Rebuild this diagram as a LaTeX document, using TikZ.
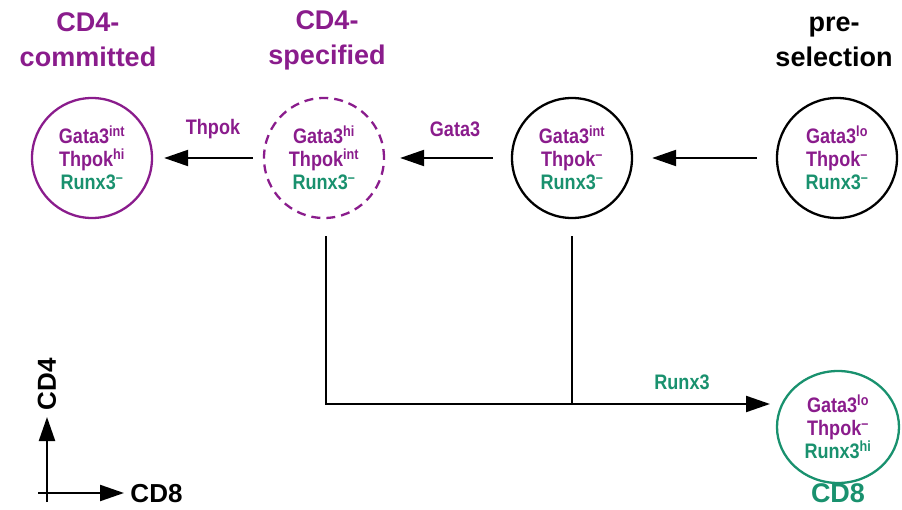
\documentclass[tikz,border=0pt]{standalone}
\usepackage{fontspec}
\setmainfont{Liberation Sans}
\newfontfamily\cellfont[FakeStretch=0.86]{Liberation Sans}
\usetikzlibrary{arrows.meta,shapes.geometric}
\definecolor{pur}{RGB}{138,28,140}
\definecolor{grn}{RGB}{25,145,110}
\begin{document}
\begin{tikzpicture}[x=1pt,y=-1pt,line width=2.3pt,
  cell/.style={circle,draw,line width=2.3pt,minimum size=120pt,inner sep=0pt,align=center,
    font=\cellfont\bfseries\fontsize{21}{23}\selectfont},
  lab/.style={font=\cellfont\bfseries\fontsize{21}{23}\selectfont},
  ttl/.style={align=center,font=\bfseries\fontsize{27}{35}\selectfont},
  arr/.style={-{Triangle[length=24pt,width=16pt]},line width=2.2pt},
  axarr/.style={-{Triangle[length=24pt,width=16pt]},line width=2.2pt}]
\useasboundingbox (0,0) rectangle (902,510);
% titles
\node[ttl,text=pur] (t1) at (88,40) {CD4-\\committed};
\node[ttl,text=pur] (t2) at (327,40) {CD4-\\specified};
\node[ttl,text=black] (t3) at (834,42) {pre-\\selection};
% cells
\node[cell,draw=pur] (committed) at (92,158)
  {\textcolor{pur}{Gata3\textsuperscript{int}}\\\textcolor{pur}{Thpok\textsuperscript{hi}}\\\textcolor{grn}{Runx3\textsuperscript{–}}};
\node[cell,draw=pur,dash pattern=on 9pt off 6pt] (specified) at (324,158)
  {\textcolor{pur}{Gata3\textsuperscript{hi}}\\\textcolor{pur}{Thpok\textsuperscript{int}}\\\textcolor{grn}{Runx3\textsuperscript{–}}};
\node[cell,draw=black] (dp) at (572,158)
  {\textcolor{pur}{Gata3\textsuperscript{int}}\\\textcolor{pur}{Thpok\textsuperscript{–}}\\\textcolor{grn}{Runx3\textsuperscript{–}}};
\node[cell,draw=black] (pre) at (837,158)
  {\textcolor{pur}{Gata3\textsuperscript{lo}}\\\textcolor{pur}{Thpok\textsuperscript{–}}\\\textcolor{grn}{Runx3\textsuperscript{–}}};
\node[cell,draw=grn,ellipse,minimum width=122pt,minimum height=112pt] (cd8) at (838,427)
  {\textcolor{pur}{Gata3\textsuperscript{lo}}\\\textcolor{pur}{Thpok\textsuperscript{–}}\\\textcolor{grn}{Runx3\textsuperscript{hi}}};
\node[ttl,text=grn] (t4) at (838,493) {CD8};
% horizontal arrows
\draw[arr,shorten <=10pt,shorten >=11pt] (specified) -- (committed);
\draw[arr,shorten <=18pt,shorten >=15pt] (dp) -- (specified);
\draw[arr,shorten <=19pt,shorten >=19pt] (pre) -- (dp);
\node[lab,text=pur] (l1) at (213,129) {Thpok};
\node[lab,text=pur] (l2) at (455,129) {Gata3};
\node[lab,text=grn] (l3) at (682,382) {Runx3};
% branches to CD8
\coordinate (tip) at (770,404);
\draw[arr] ([xshift=2pt,yshift=-17pt]specified.south) |- (tip);
\draw ([yshift=-17pt]dp.south) -- (dp.south |- tip);
% axes
\coordinate (ox) at (47,493);
\coordinate (ay) at (47,417);
\coordinate (ax) at (124,493);
\draw[axarr] ([yshift=-9pt]ox) -- (ay);
\draw[axarr] ([xshift=-9pt]ox) -- (ax);
\node[ttl,anchor=west,font=\bfseries\fontsize{26}{30}\selectfont] (cd8ax) at (126,494) {CD8};
\node[ttl,rotate=90,font=\bfseries\fontsize{26}{30}\selectfont] (cd4ax) at (47,384) {CD4};
\end{tikzpicture}
\end{document}
